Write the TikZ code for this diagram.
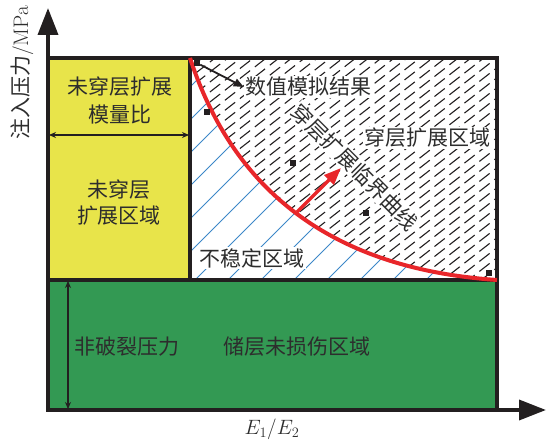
\documentclass[tikz,border=0pt]{standalone}
\usepackage{fontspec}
\newfontfamily\cjk{Noto Sans CJK SC}
\usetikzlibrary{arrows.meta}
\definecolor{yfill}{RGB}{232,228,74}
\definecolor{gfill}{RGB}{51,153,83}
\definecolor{redc}{RGB}{232,38,42}
\definecolor{bluec}{RGB}{60,135,200}
\definecolor{darkc}{RGB}{35,31,32}
\definecolor{txtc}{RGB}{45,45,45}
\begin{document}
\begin{tikzpicture}[x=1pt,y=-1pt,
  lbl/.style={font=\cjk\fontsize{21}{25}\selectfont, text=txtc, inner sep=1pt},
  wlbl/.style={lbl, fill=white},
  bord/.style={line width=3.2pt, draw=darkc},
  bluehatch/.style={draw=bluec, line width=0.9pt},
  blackhatch/.style={draw=darkc, line width=1.1pt, dash pattern=on 13pt off 6pt},
  dbl/.style={line width=1.8pt, draw=darkc, {Stealth[length=7pt,width=6pt]}-{Stealth[length=7pt,width=6pt]}},
  axis/.style={line width=3.6pt, draw=darkc, -{Triangle[length=27pt,width=20pt]}},
  marker/.style={fill=darkc, minimum size=6pt, inner sep=0pt, rectangle}]
\useasboundingbox (0,0) rectangle (547,441);
% fills
\fill[yfill] (48,58) rectangle (190,280);
\fill[gfill] (48,280) rectangle (497,410);
\fill[white] (190,58) rectangle (497,280);
% blue hatching below curve
\begin{scope}
\clip (190,58) .. controls (230,180) and (320,268) .. (497,280) -- (190,280) -- cycle;
\foreach \k in {-9,...,10} {
  \pgfmathsetmacro\c{475+33*\k}
  \draw[bluehatch] ({\c-300},300) -- ({\c-40},40);
}
\end{scope}
% black dashed hatching above curve
\begin{scope}
\clip (190,58) -- (497,58) -- (497,280) .. controls (320,268) and (230,180) .. (190,58) -- cycle;
\foreach \k in {0,...,50} {
  \pgfmathsetmacro\c{196+10*\k}
  \draw[blackhatch] (180,{\c-140.6}) -- (510,{\c-398.5});
}
\end{scope}
% borders
\draw[bord] (48,58) rectangle (497,410);
\draw[bord] (48,280) -- (497,280);
\draw[bord] (190,58) -- (190,280);
% axes
\coordinate (O) at (48,410);
\coordinate (ytip) at (48,8);
\coordinate (xtip) at (546,410);
\draw[axis] (O) -- (ytip);
\draw[axis] (O) -- (xtip);
% red curve
\draw[redc, line width=4pt] (190,58) .. controls (230,180) and (320,268) .. (497,280);
% markers
\node[marker] (m1) at (197,63) {};
\node[marker] (m2) at (207,112) {};
\node[marker] (m3) at (293,163) {};
\node[marker] (m4) at (366,213) {};
\node[marker] (m5) at (489,273) {};
% labels
\node[lbl] (ymod1) at (120,87) {未穿层扩展};
\node[lbl] (ymod2) at (120,115) {模量比};
\node[lbl] (yreg1) at (119,190) {未穿层};
\node[lbl] (yreg2) at (119,216) {扩展区域};
\node[wlbl] (num) at (308,87) {数值模拟结果};
\node[wlbl] (cross) at (427,138) {穿层扩展区域};
\node[wlbl, rotate=-45] (crit) at (355,167) {穿层扩展临界曲线};
\node[wlbl] (unst) at (252,258) {不稳定区域};
\node[lbl] (nonf) at (127,347) {非破裂压力};
\node[lbl] (undam) at (297,347) {储层未损伤区域};
\node[font=\fontsize{20}{24}\selectfont, text=txtc] (xl) at (272,429) {$E_1/E_2$};
\node[lbl, rotate=90] (yl) at (22,73) {注入压力{\fontspec{Latin Modern Roman}/MPa}};
% pointer arrow
\draw[line width=1.8pt, darkc, -{Triangle[length=10pt,width=8pt]}] (m1) -- (num.west);
% double arrows
\coordinate (da1) at (49,135);
\coordinate (da2) at (189,135);
\draw[dbl] (da1) -- (da2);
\coordinate (db1) at (68,281);
\coordinate (db2) at (68,409);
\draw[dbl] (db1) -- (db2);
% red arrow
\coordinate (ra1) at (297,212);
\coordinate (ra2) at (341,168);
\draw[redc, line width=3.5pt, -{Triangle[length=17pt,width=13pt]}] (ra1) -- (ra2);
\end{tikzpicture}
\end{document}
